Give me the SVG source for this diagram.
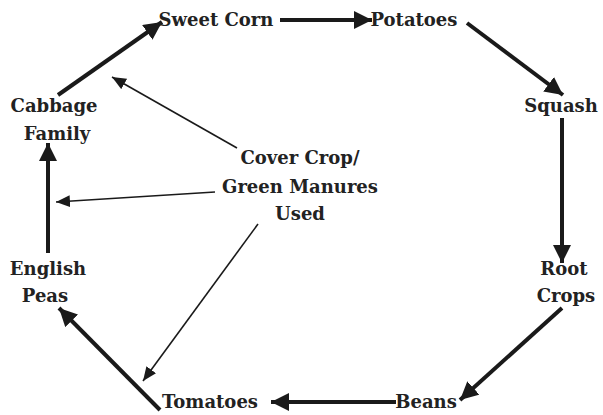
<svg xmlns="http://www.w3.org/2000/svg" width="603" height="415" viewBox="0 0 603 415">
  <style>
    .lbl { font-family: "DejaVu Serif", "Liberation Serif", serif; font-weight: bold; font-size: 18px; fill: #222; text-anchor: middle; }
    .thick { stroke: #1a1a1a; stroke-width: 4; fill: none; marker-end: url(#bigHead); }
    .thin { stroke: #1a1a1a; stroke-width: 1.6; fill: none; marker-end: url(#smallHead); }
  </style>
  <defs>
    <marker id="bigHead" markerUnits="userSpaceOnUse" markerWidth="20" markerHeight="18" refX="18" refY="9" orient="auto">
      <path d="M0,0 L18,9 L0,18 Z" fill="#1a1a1a"/>
    </marker>
    <marker id="smallHead" markerUnits="userSpaceOnUse" markerWidth="16" markerHeight="12" refX="14" refY="6" orient="auto">
      <path d="M0,0 L14,6 L0,12 Z" fill="#1a1a1a"/>
    </marker>
  </defs>
  <rect width="603" height="415" fill="#fff"/>

  <g id="connectors">
    <line class="thick" x1="58" y1="95" x2="162" y2="22"/>
    <line class="thick" x1="280" y1="20" x2="372" y2="20"/>
    <line class="thick" x1="467" y1="23" x2="563" y2="95"/>
    <line class="thick" x1="562" y1="118" x2="562" y2="263"/>
    <line class="thick" x1="562" y1="308" x2="460" y2="400"/>
    <line class="thick" x1="396" y1="402" x2="271" y2="402"/>
    <line class="thick" x1="160" y1="410" x2="59" y2="308"/>
    <line class="thick" x1="48" y1="253" x2="48" y2="143"/>
    <line class="thin" x1="237" y1="148" x2="112" y2="77"/>
    <line class="thin" x1="215" y1="192" x2="56" y2="202"/>
    <line class="thin" x1="258" y1="224" x2="143" y2="381"/>
  </g>

  <g id="sweet-corn"><text class="lbl" x="216" y="26">Sweet Corn</text></g>
  <g id="potatoes"><text class="lbl" x="414" y="26">Potatoes</text></g>
  <g id="squash"><text class="lbl" x="561" y="112">Squash</text></g>
  <g id="root-crops">
    <text class="lbl" x="564" y="275">Root</text>
    <text class="lbl" x="566" y="302">Crops</text>
  </g>
  <g id="beans"><text class="lbl" x="426" y="408">Beans</text></g>
  <g id="tomatoes"><text class="lbl" x="210" y="408">Tomatoes</text></g>
  <g id="english-peas">
    <text class="lbl" x="48" y="275">English</text>
    <text class="lbl" x="45" y="302">Peas</text>
  </g>
  <g id="cabbage-family">
    <text class="lbl" x="54" y="112">Cabbage</text>
    <text class="lbl" x="57" y="140">Family</text>
  </g>
  <g id="cover-crop">
    <text class="lbl" x="300" y="164">Cover Crop/</text>
    <text class="lbl" x="300" y="193">Green Manures</text>
    <text class="lbl" x="300" y="220">Used</text>
  </g>
</svg>
